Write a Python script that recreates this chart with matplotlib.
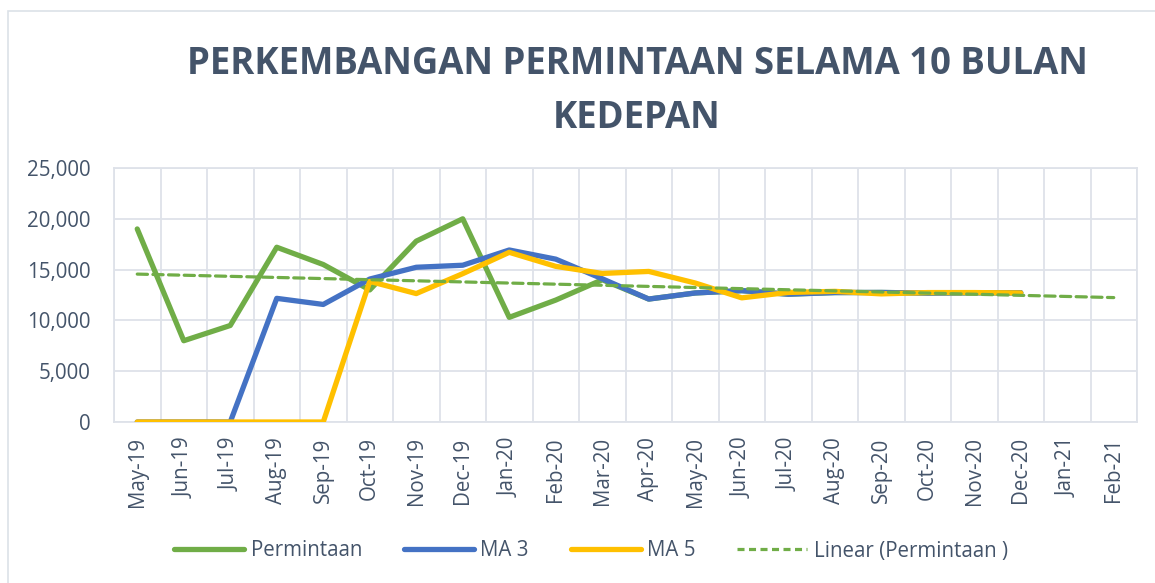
import numpy as np
import matplotlib
matplotlib.use("Agg")
import matplotlib.pyplot as plt
from matplotlib.lines import Line2D
from matplotlib.patches import Rectangle

plt.rcParams['font.family'] = ['Open Sans', 'DejaVu Sans']

months = ["May-19", "Jun-19", "Jul-19", "Aug-19", "Sep-19", "Oct-19", "Nov-19",
          "Dec-19", "Jan-20", "Feb-20", "Mar-20", "Apr-20", "May-20", "Jun-20",
          "Jul-20", "Aug-20", "Sep-20", "Oct-20", "Nov-20", "Dec-20", "Jan-21", "Feb-21"]

permintaan = [19000, 8000, 9500, 17200, 15500, 13000, 17800, 20000, 10300, 12000,
              14000, 12100, 12700, 12930, 12580, 12740, 12750, 12690, 12720, 12720]
ma3 = [0, 0, 0, 12170, 11570, 14070, 15230, 15430, 16930, 16030,
       14100, 12100, 12700, 12930, 12580, 12740, 12750, 12690, 12720, 12720]
ma5 = [0, 0, 0, 0, 0, 13840, 12640, 14600, 16700, 15320,
       14620, 14820, 13680, 12220, 12750, 12860, 12610, 12740, 12740, 12700]

yticks = [0, 5000, 10000, 15000, 20000, 25000]
title_lines = ["PERKEMBANGAN PERMINTAAN SELAMA 10 BULAN", "KEDEPAN"]

text_col = "#44546A"
grid_col = "#DEE2E9"
green = "#70AD47"
blue = "#4472C4"
yellow = "#FFC000"

W, H = 1155, 583
fig = plt.figure(figsize=(W / 100, H / 100), dpi=100)
fig.patch.set_facecolor("white")

# chart border (partially cropped in the reference)
fig.add_artist(Rectangle((8 / W, -0.1), 1.2, 1.1 - 11 / H, transform=fig.transFigure,
                         fill=False, edgecolor="#DCE1E8", linewidth=1.2))

left, right, top, bottom = 114, 1137, 168, 422
ax = fig.add_axes([left / W, 1 - bottom / H, (right - left) / W, (bottom - top) / H])

x = np.arange(len(months))
n = len(permintaan)
lw = 3.8
ax.plot(x[:n], permintaan, color=green, lw=lw, solid_joinstyle="round", solid_capstyle="round", zorder=3)
ax.plot(x[:n], ma3, color=blue, lw=lw, solid_joinstyle="round", solid_capstyle="round", zorder=4)
ax.plot(x[:n], ma5, color=yellow, lw=lw, solid_joinstyle="round", solid_capstyle="round", zorder=5)

# linear trendline of Permintaan, extended over all categories
coef = np.polyfit(np.arange(n) + 1, permintaan, 1)
trend = np.polyval(coef, x + 1)
ax.plot(x, trend, color=green, lw=2.3, dashes=(3.2, 1.7), dash_capstyle="round", zorder=6)

ax.set_xlim(-0.5, len(months) - 0.5)
ax.set_ylim(0, 25000)
ax.set_yticks(yticks)
ax.set_yticklabels([f"{v:,}" for v in yticks])
ax.set_xticks(x)
ax.set_xticklabels(months, rotation=90)
ax.set_xticks(np.arange(len(months) + 1) - 0.5, minor=True)
ax.tick_params(axis="x", which="major", length=0, pad=11, labelsize=14.8, labelcolor=text_col)
ax.tick_params(axis="x", which="minor", length=0)
ax.tick_params(axis="y", length=0, pad=17, labelsize=14.8, labelcolor=text_col)
ax.grid(True, axis="y", which="major", color=grid_col, lw=1.3)
ax.grid(True, axis="x", which="minor", color=grid_col, lw=1.3)
ax.set_axisbelow(True)
for s in ax.spines.values():
    s.set_color(grid_col)
    s.set_linewidth(1.3)

for txt, yc in zip(title_lines, [64, 118]):
    fig.text(637 / W, 1 - yc / H, txt, ha="center", va="center", fontsize=26.3,
             fontweight="bold", color=text_col)

handles = [Line2D([], [], color=green, lw=lw, solid_capstyle="round"),
           Line2D([], [], color=blue, lw=lw, solid_capstyle="round"),
           Line2D([], [], color=yellow, lw=lw, solid_capstyle="round"),
           Line2D([], [], color=green, lw=2.3, dashes=(2.2, 1.4))]
labels = ["Permintaan", "MA 3", "MA 5", "Linear (Permintaan )"]
fig.legend(handles, labels, loc="center", bbox_to_anchor=(591 / W, 1 - 551 / H), ncol=4,
           frameon=False, fontsize=14.8, labelcolor=text_col, handlelength=3.4,
           handletextpad=0.3, columnspacing=2.05)

fig.savefig("out.png", dpi=100, facecolor="white")
